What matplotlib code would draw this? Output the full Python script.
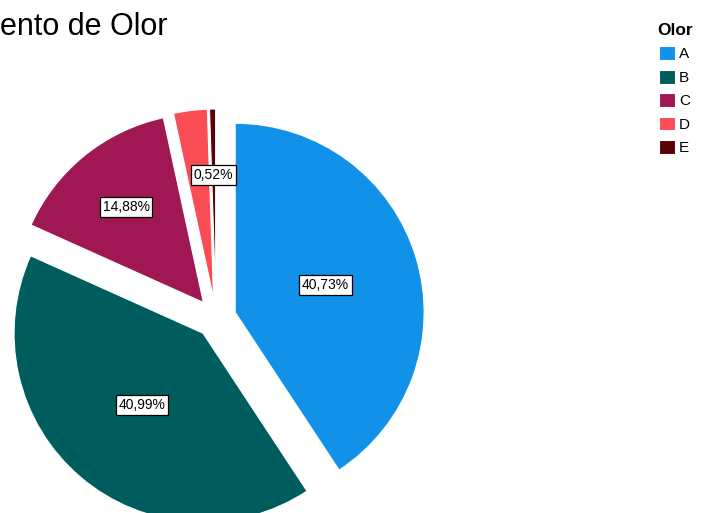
import matplotlib.pyplot as plt
import numpy as np

plt.rcParams['font.family'] = ['Liberation Sans', 'DejaVu Sans']

# Olor distribution (percent)
categorias = ['A', 'B', 'C', 'D', 'E']
porcentajes = [40.73, 40.99, 14.88, 2.88, 0.52]
etiquetas = ['40,73%', '40,99%', '14,88%', None, '0,52%']
colores = ['#1192e8', '#005d5d', '#9f1853', '#fa4d56', '#570408']

W, H = 704, 513
fig = plt.figure(figsize=(W / 100, H / 100), dpi=100)
ax = fig.add_axes([0, 0, 1, 1])

radio = 189
wedges, _ = ax.pie(porcentajes, colors=colores, radius=radio, center=(216, 195),
                   explode=[20] * len(porcentajes), startangle=90, counterclock=False,
                   wedgeprops=dict(edgecolor='white', linewidth=0.8))
ax.set_xlim(0, W)
ax.set_ylim(0, H)
ax.set_aspect('equal')
ax.axis('off')

# percentage boxes inside each wedge
dist = [0.5, 0.5, 0.65, 0.65, 0.65]
for w, txt, d in zip(wedges, etiquetas, dist):
    if txt is None:
        continue
    ang = np.deg2rad((w.theta1 + w.theta2) / 2)
    cx, cy = w.center
    ax.text(cx + d * radio * np.cos(ang), cy + d * radio * np.sin(ang), txt,
            ha='center', va='center', fontsize=10,
            bbox=dict(boxstyle='square,pad=0.2', fc='white', ec='black', lw=0.9))

fig.text(167 / W, 1 - 35 / H, 'ento de Olor', ha='right', va='baseline', fontsize=22)

leg = ax.legend(wedges, categorias, title='Olor', loc='upper left',
                bbox_to_anchor=(657 / W, 1 - 23 / H), frameon=False,
                fontsize=11, handlelength=1.0, handleheight=1.0,
                handletextpad=0.3, labelspacing=0.55, borderpad=0, borderaxespad=0,
                title_fontproperties={'weight': 'bold', 'size': 12.5})

fig.savefig('out.png', dpi=100)
